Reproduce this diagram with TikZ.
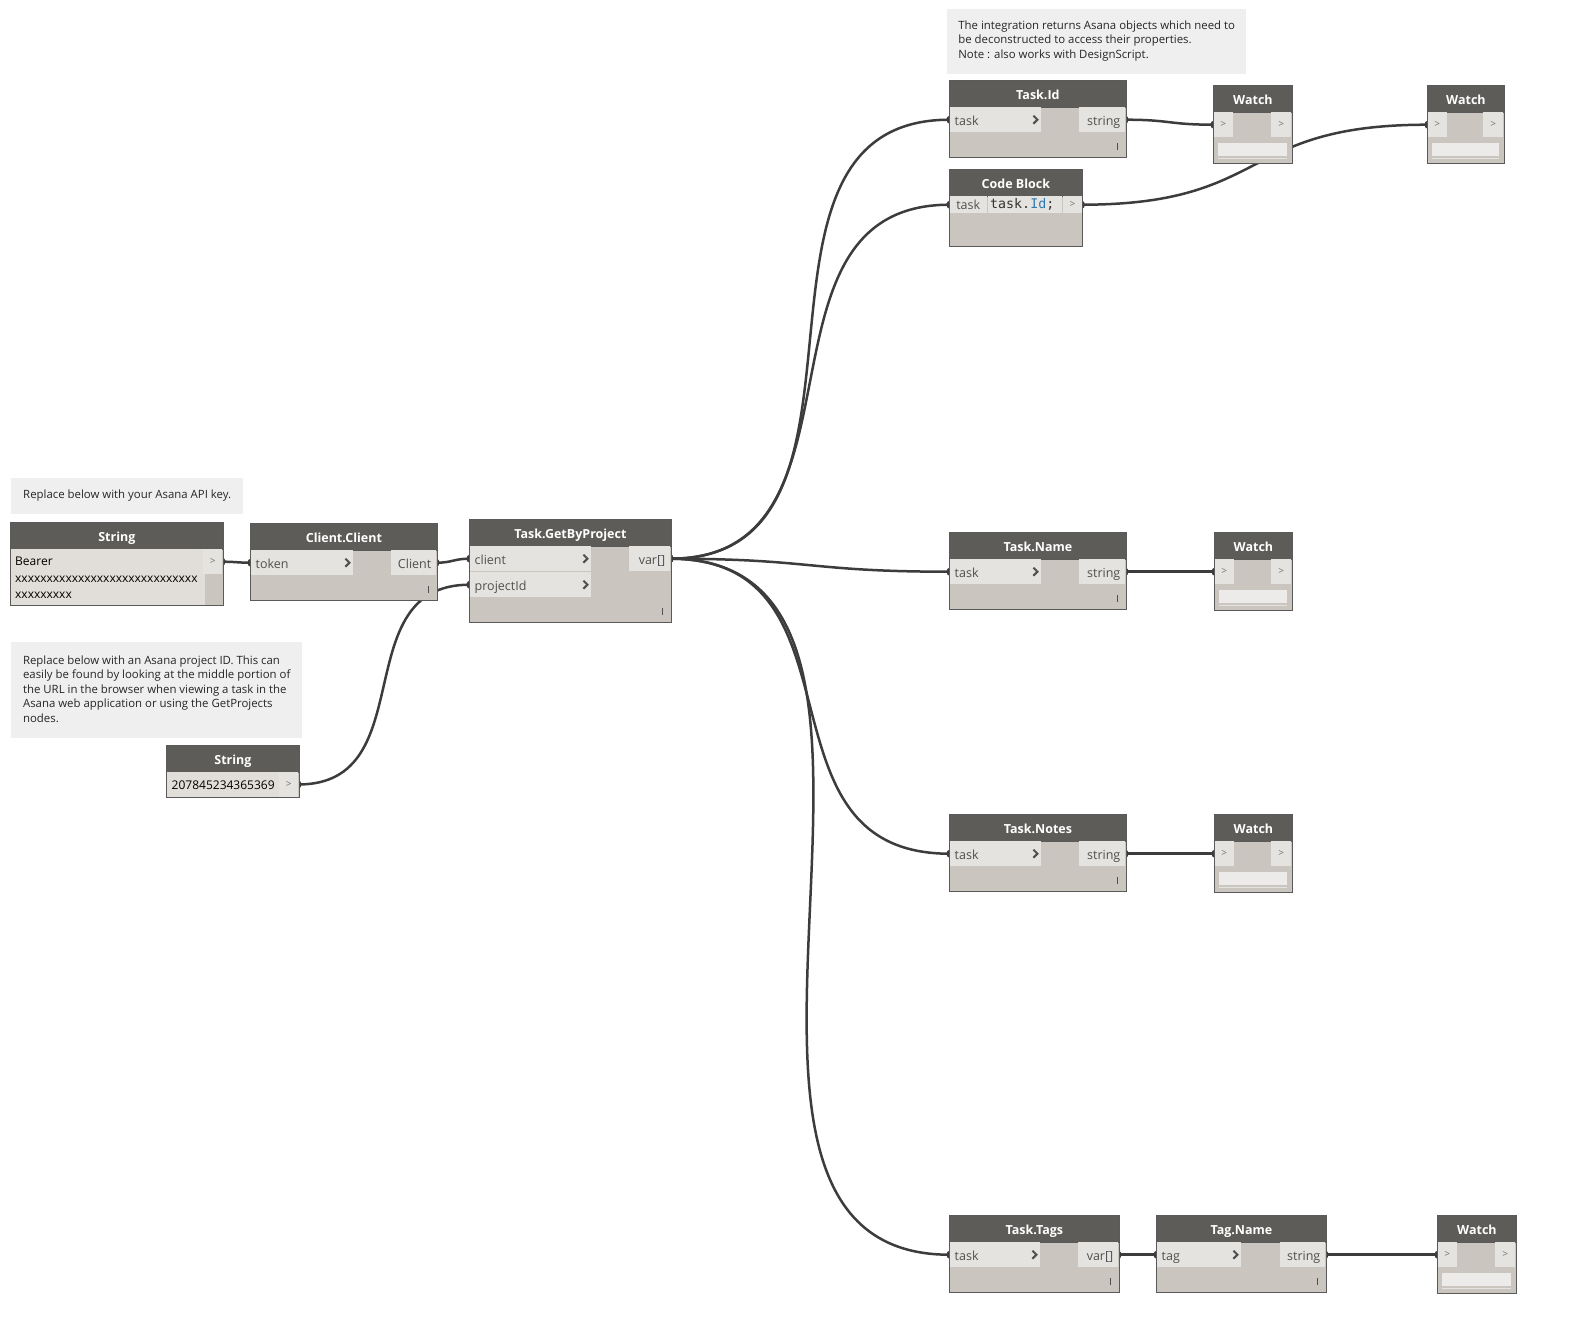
\documentclass[tikz,border=0pt]{standalone}
\usepackage{fontspec}
\setmainfont{Open Sans}
\setmonofont{DejaVu Sans Mono}
\usetikzlibrary{shadows}
\pgfdeclarelayer{background}
\pgfsetlayers{background,main}

\definecolor{headgrey}{HTML}{5D5C59}
\definecolor{bodygrey}{HTML}{CAC5BE}
\definecolor{portgrey}{HTML}{E5E3DF}
\definecolor{valuegrey}{HTML}{E1DED9}
\definecolor{edgegrey}{HTML}{5A5A5A}
\definecolor{notegrey}{HTML}{EFEFEF}
\definecolor{wiregrey}{HTML}{3C3C3C}
\definecolor{labelgrey}{HTML}{505050}
\definecolor{codeblue}{HTML}{2C7AB0}

\tikzset{
  nodebody/.style={draw=edgegrey, line width=0.8pt, fill=bodygrey, anchor=north west, inner sep=0pt},
  nodehead/.style={draw=edgegrey, line width=0.8pt, fill=headgrey, anchor=north west, inner sep=0pt,
    minimum height=27pt, text height=12pt, text depth=1pt, text=white, font=\fontsize{12.5}{14}\selectfont\bfseries},
  portcell/.style={fill=portgrey, inner sep=0pt, minimum height=25pt},
  porttext/.style={inner sep=0pt, text height=12pt, text depth=1pt, text=labelgrey, font=\fontsize{12.5}{14}\selectfont},
  arrowtext/.style={text=labelgrey!80, font=\fontsize{10}{12}\selectfont},
  chevline/.style={draw=labelgrey, line width=2pt},
  imark/.style={draw=labelgrey, line width=0.8pt},
  wire/.style={draw=wiregrey, line width=2.5pt},
  notebox/.style={fill=notegrey, anchor=north west, inner xsep=10pt, inner ysep=0pt, align=left,
    text=black!85, font=\fontsize{11.4}{14.5}\selectfont,
    drop shadow={opacity=0.12, shadow xshift=0pt, shadow yshift=-1.5pt}},
  screen/.style={fill=portgrey!70!white, anchor=north west, inner sep=0pt, minimum height=13pt},
}

\newcommand{\chev}[1]{\draw[chevline] ([xshift=-7.5pt,yshift=4pt]#1.east) -- ++(4,4) -- ++(-4,4);}
\newcommand{\imarkat}[1]{\draw[imark] ([xshift=-9pt,yshift=8pt]#1.south east) -- ++(0,-7);}
\newcommand{\dynnode}[6]{%
  \node[nodebody, minimum width=#4pt, minimum height=#5pt] (#1) at (#2,#3) {};
  \node[nodehead, minimum width=#4pt] (#1-head) at (#2,#3) {#6};}
\newcommand{\inport}[5]{%
  \node[portcell, anchor=north west, minimum width=#4pt] (#1) at ([xshift=0.5pt]#2,#3) {};
  \node[porttext, anchor=west] (#1-txt) at ([xshift=5pt]#1.west) {#5};
  \chev{#1}}
\newcommand{\outport}[5]{%
  \node[portcell, anchor=north east, minimum width=#4pt] (#1) at ([xshift=-0.5pt]#2,#3) {};
  \node[porttext, anchor=east] (#1-txt) at ([xshift=-5pt]#1.east) {#5};}
\newcommand{\watchnode}[4]{%
  \dynnode{#1}{#2}{#3}{#4}{78}{Watch}
  \node[portcell, anchor=north west, minimum width=19pt, arrowtext] (#1-in) at ([xshift=0.5pt]#2,#3+27) {>};
  \node[portcell, anchor=north east, minimum width=20pt, arrowtext] (#1-out) at ([xshift=-0.5pt]#2+#4,#3+27) {>};
  \node[screen, minimum width={#4pt-10pt}] (#1-screen) at (#2+5,#3+58) {};
  \draw[portgrey, line width=0.8pt] ([yshift=-2pt]#1-screen.south west) -- ([yshift=-2pt]#1-screen.south east);}
\newcommand{\wire}[3]{%
  \draw[wire] (#1.east) .. controls +(#3,0) and +(-#3,0) .. (#2.west);
  \fill[wiregrey] (#1.east) ellipse (3 and 4);
  \fill[wiregrey] (#2.west) ellipse (3 and 4);}

\begin{document}
\begin{tikzpicture}[x=1pt,y=-1pt]
\useasboundingbox (0,0) rectangle (1578,1336);

% notes
\node[notebox, minimum width=232pt, minimum height=34pt] (note-key) at (11,478) {Replace below with your Asana API key.};
\node[notebox, minimum width=291pt, minimum height=94pt] (note-project) at (11,642) {Replace below with an Asana project ID. This can\\easily be found by looking at the middle portion of\\the URL in the browser when viewing a task in the\\Asana web application or using the GetProjects\\nodes.};
\node[notebox, minimum width=299pt, minimum height=63pt] (note-tasks) at (947,9) {The integration returns Asana objects which need to\\be deconstructed to access their properties.\\Note : also works with DesignScript.};

% inputs
\dynnode{str1}{10}{522}{213}{83}{String}
\node[portcell, fill=valuegrey, anchor=north west, minimum width=194pt, minimum height=55.5pt] (str1-val) at (10.5,549) {};
\node[anchor=north west, inner sep=0pt, align=left, font=\fontsize{12}{16.5}\selectfont] (str1-txt) at (15,557) {Bearer\\xxxxxxxxxxxxxxxxxxxxxxxxxxxxx\\xxxxxxxxx};
\node[portcell, anchor=north east, minimum width=19pt, arrowtext] (str1-out) at (222.5,549) {>};

\dynnode{str2}{166}{745}{133}{52}{String}
\node[portcell, fill=valuegrey, anchor=north west, minimum width=114pt, minimum height=24.5pt] (str2-val) at (166.5,772) {};
\node[anchor=west, inner sep=0pt, text height=11pt, text depth=1pt, font=\fontsize{12}{14}\selectfont] (str2-txt) at ([xshift=5pt]str2-val.west) {207845234365369};
\node[portcell, anchor=north east, minimum width=19pt, minimum height=24.5pt, arrowtext] (str2-out) at (298.5,772) {>};

\dynnode{cc}{250}{523}{187}{77}{Client.Client}
\inport{cc-in}{250}{550}{102}{token}
\outport{cc-out}{437}{550}{45}{Client}
\imarkat{cc}

\dynnode{gbp}{469}{519}{202}{103}{Task.GetByProject}
\inport{gbp-client}{469}{546}{121}{client}
\inport{gbp-pid}{469}{572}{121}{projectId}
\outport{gbp-out}{671}{546}{41}{var[]}
\imarkat{gbp}

% task properties
\dynnode{tid}{949}{80}{177}{77}{Task.Id}
\inport{tid-in}{949}{107}{91}{task}
\outport{tid-out}{1126}{107}{46}{string}
\imarkat{tid}

\dynnode{cb}{949}{169}{133}{77}{Code Block}
\node[portcell, anchor=north west, minimum width=37pt, minimum height=17pt] (cb-in) at (949.5,196) {};
\node[porttext, text height=10pt, text depth=1pt] (cb-in-txt) at (cb-in) {task};
\node[portcell, anchor=north west, minimum width=74pt, minimum height=17pt] (cb-code) at (988,196) {};
\node[anchor=west, inner sep=0pt, font=\ttfamily\fontsize{13.3}{15}\selectfont, text=black!80] (cb-code-txt) at ([xshift=2pt]cb-code.west) {task.\textcolor{codeblue}{Id};};
\node[portcell, anchor=north west, minimum width=18.5pt, minimum height=17pt, arrowtext] (cb-out) at (1063,196) {>};

\watchnode{w1}{1213}{85}{79}
\watchnode{w2}{1427}{85}{77}

\dynnode{tn}{949}{532}{177}{77}{Task.Name}
\inport{tn-in}{949}{559}{91}{task}
\outport{tn-out}{1126}{559}{46}{string}
\imarkat{tn}
\watchnode{w3}{1214}{532}{78}

\dynnode{tno}{949}{814}{177}{77}{Task.Notes}
\inport{tno-in}{949}{841}{91}{task}
\outport{tno-out}{1126}{841}{46}{string}
\imarkat{tno}
\watchnode{w4}{1214}{814}{78}

\dynnode{tt}{949}{1215}{170}{77}{Task.Tags}
\inport{tt-in}{949}{1242}{90}{task}
\outport{tt-out}{1119}{1242}{40}{var[]}
\imarkat{tt}
\dynnode{tg}{1156}{1215}{170}{77}{Tag.Name}
\inport{tg-in}{1156}{1242}{84}{tag}
\outport{tg-out}{1326}{1242}{45}{string}
\imarkat{tg}
\watchnode{w5}{1437}{1215}{79}

% wires
\begin{pgfonlayer}{background}
\fill[white] (0,0) rectangle (1578,1336);
\wire{str1-out}{cc-in}{13}
\wire{cc-out}{gbp-client}{16}
\wire{str2-out}{gbp-pid}{125}
\wire{gbp-out}{tid-in}{236}
\wire{gbp-out}{cb-in}{210}
\wire{gbp-out}{tn-in}{141}
\wire{gbp-out}{tno-in}{202}
\wire{gbp-out}{tt-in}{310}
\wire{tid-out}{w1-in}{45}
\wire{cb-out}{w2-in}{190}
\wire{tn-out}{w3-in}{44}
\wire{tno-out}{w4-in}{44}
\wire{tt-out}{tg-in}{18}
\wire{tg-out}{w5-in}{56}
\end{pgfonlayer}
\end{tikzpicture}
\end{document}
